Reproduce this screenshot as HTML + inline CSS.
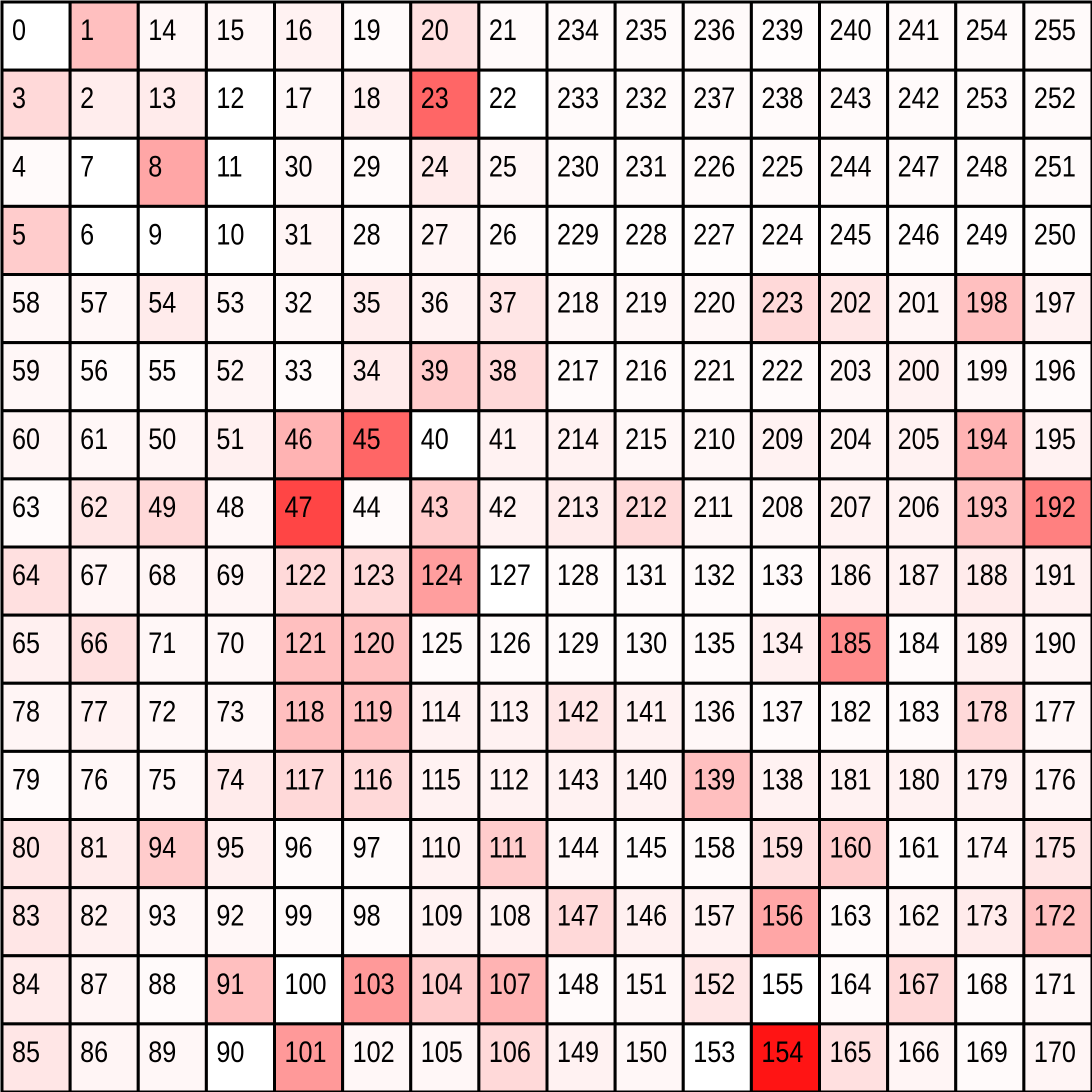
<!DOCTYPE html>
<html><head><meta charset="utf-8">
<style>
html,body{margin:0;padding:0;background:#fff;}
svg{display:block;}
text{font-family:"Liberation Sans",sans-serif;font-size:30px;fill:#000;}
</style></head>
<body>
<svg id="chart" width="1092" height="1092" viewBox="0 0 1092 1092" xmlns="http://www.w3.org/2000/svg"></svg>
<script>
const labels = [
[0,1,14,15,16,19,20,21,234,235,236,239,240,241,254,255],
[3,2,13,12,17,18,23,22,233,232,237,238,243,242,253,252],
[4,7,8,11,30,29,24,25,230,231,226,225,244,247,248,251],
[5,6,9,10,31,28,27,26,229,228,227,224,245,246,249,250],
[58,57,54,53,32,35,36,37,218,219,220,223,202,201,198,197],
[59,56,55,52,33,34,39,38,217,216,221,222,203,200,199,196],
[60,61,50,51,46,45,40,41,214,215,210,209,204,205,194,195],
[63,62,49,48,47,44,43,42,213,212,211,208,207,206,193,192],
[64,67,68,69,122,123,124,127,128,131,132,133,186,187,188,191],
[65,66,71,70,121,120,125,126,129,130,135,134,185,184,189,190],
[78,77,72,73,118,119,114,113,142,141,136,137,182,183,178,177],
[79,76,75,74,117,116,115,112,143,140,139,138,181,180,179,176],
[80,81,94,95,96,97,110,111,144,145,158,159,160,161,174,175],
[83,82,93,92,99,98,109,108,147,146,157,156,163,162,173,172],
[84,87,88,91,100,103,104,107,148,151,152,155,164,167,168,171],
[85,86,89,90,101,102,105,106,149,150,153,154,165,166,169,170]
];
const intensity = [
[0,0.25,0.03,0.03,0.05,0.02,0.12,0.02,0.02,0.02,0.02,0.01,0.01,0.02,0.02,0.02],
[0.15,0.07,0.08,0,0.03,0.06,0.6,0,0.02,0.02,0.02,0.02,0.02,0.02,0.02,0.02],
[0.02,0,0.35,0,0.03,0.02,0.08,0.03,0.02,0.02,0.02,0.02,0.02,0.02,0.02,0.02],
[0.2,0,0,0,0.04,0.02,0.04,0.02,0.01,0.01,0.01,0.01,0.01,0.01,0.01,0.01],
[0.03,0.03,0.08,0.03,0.03,0.07,0.05,0.1,0.03,0.03,0.03,0.15,0.1,0.04,0.25,0.05],
[0.03,0.02,0.02,0.04,0.02,0.08,0.2,0.15,0.02,0.02,0.02,0.02,0.03,0.05,0.03,0.02],
[0.04,0.03,0.04,0.06,0.3,0.6,0,0.05,0.05,0.03,0.03,0.05,0.04,0.05,0.3,0.05],
[0.02,0.1,0.15,0.03,0.73,0.02,0.2,0.05,0.08,0.15,0.03,0.03,0.05,0.05,0.25,0.5],
[0.12,0.04,0.04,0.04,0.15,0.15,0.38,0,0.02,0.02,0.02,0.02,0.05,0.05,0.08,0.06],
[0.06,0.12,0.03,0.03,0.25,0.25,0.02,0.02,0.02,0.02,0.02,0.06,0.45,0.02,0.06,0.04],
[0.04,0.05,0.03,0.03,0.25,0.25,0.05,0.05,0.1,0.05,0.03,0.02,0.02,0.02,0.15,0.03],
[0.02,0.03,0.03,0.08,0.15,0.15,0.05,0.05,0.05,0.05,0.25,0.05,0.05,0.05,0.05,0.04],
[0.1,0.08,0.2,0.06,0.02,0.02,0.05,0.2,0.03,0.02,0.02,0.12,0.2,0.02,0.04,0.1],
[0.1,0.06,0.03,0.03,0.02,0.02,0.05,0.05,0.15,0.06,0.05,0.35,0.02,0.04,0.08,0.25],
[0.08,0.04,0.02,0.25,0,0.4,0.2,0.3,0.02,0.03,0.1,0,0.02,0.15,0.02,0.03],
[0.1,0.04,0.03,0,0.4,0.03,0.03,0.15,0.05,0.03,0,0.92,0.12,0.04,0.02,0.04]
];
const svg = document.getElementById('chart');
const NS = 'http://www.w3.org/2000/svg';
const x0 = 2, pitch = 68.125;
function xPos(c){ return x0 + c*pitch; }
function yPos(r){ return x0 + r*pitch; }
function colorFor(v){ const g = Math.round(255*(1-v)); return 'rgb(255,'+g+','+g+')'; }
for (let r=0;r<labels.length;r++){
  for (let c=0;c<labels[r].length;c++){
    const rect = document.createElementNS(NS,'rect');
    rect.setAttribute('x', xPos(c)); rect.setAttribute('y', yPos(r));
    rect.setAttribute('width', pitch); rect.setAttribute('height', pitch);
    rect.setAttribute('fill', colorFor(intensity[r][c]));
    rect.setAttribute('stroke', '#000'); rect.setAttribute('stroke-width', '3');
    
    
    svg.appendChild(rect);
    const t = document.createElementNS(NS,'text');
    t.setAttribute('transform', 'translate(' + (xPos(c) + 10) + ',' + (yPos(r) + 38) + ') scale(0.84,1)');
    t.textContent = labels[r][c];
    
    
    svg.appendChild(t);
  }
}
</script>
</body></html>
